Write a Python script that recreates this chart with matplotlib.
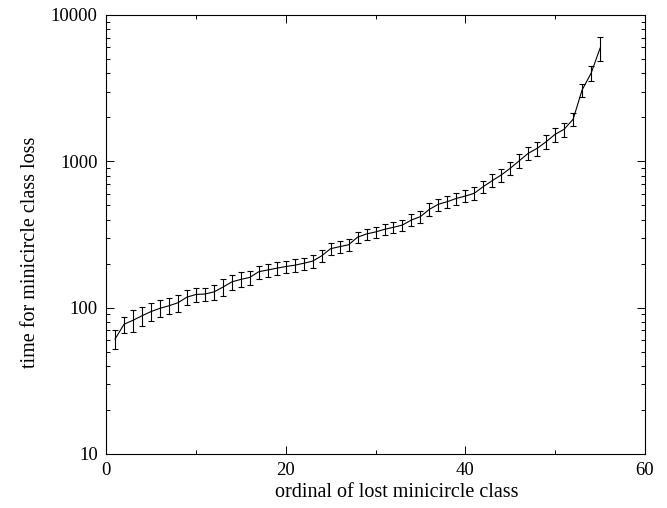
import numpy as np
import matplotlib
matplotlib.use("Agg")
import matplotlib.pyplot as plt
from matplotlib.ticker import FixedLocator, NullFormatter, LogLocator

# ordinal of lost minicircle class
ordinal = list(range(1, 56))

# time for minicircle class loss
loss_time = [61, 77, 82, 88, 94, 99, 103, 108, 118, 123,
             124, 128, 138, 150, 156, 161, 176, 181, 186, 191,
             195, 201, 208, 226, 253, 261, 269, 303, 319, 329,
             343, 354, 367, 397, 419, 470, 509, 530, 558, 579,
             605, 672, 738, 807, 896, 1009, 1134, 1227, 1362, 1530,
             1656, 1938, 3076, 3999, 5929]

# error bar half-widths
loss_err = [9, 10, 14, 13, 13, 13, 13, 15, 14, 14,
            13, 15, 18, 18, 18, 18, 18, 18, 18, 19,
            19, 19, 20, 22, 24, 24, 25, 26, 28, 28,
            30, 30, 33, 38, 40, 45, 48, 50, 52, 54,
            58, 65, 75, 85, 95, 110, 120, 135, 150, 170,
            180, 200, 320, 450, 1100]

plt.rcParams['font.family'] = ['Liberation Serif', 'DejaVu Serif']

fig = plt.figure(figsize=(6.67, 5.08), dpi=100)
ax = fig.add_axes([0.159, 0.1063, 0.808, 0.8642])

ax.errorbar(ordinal, loss_time, yerr=loss_err, color='black', lw=0.8,
            elinewidth=0.8, capsize=2.5, capthick=0.8)

ax.set_yscale('log')
ax.set_xlim(0, 60)
ax.set_ylim(10, 10000)
ax.set_xticks([0, 20, 40, 60])
ax.xaxis.set_minor_locator(FixedLocator([10, 30, 50]))
ax.set_yticks([10, 100, 1000, 10000])
ax.set_yticklabels(['10', '100', '1000', '10000'])
ax.yaxis.set_minor_locator(LogLocator(base=10, subs=np.arange(2, 10)))
ax.yaxis.set_minor_formatter(NullFormatter())

ax.tick_params(which='both', direction='in', top=True, right=True,
               labelsize=13.5, width=0.7)
ax.tick_params(which='major', length=6, pad=6)
ax.tick_params(which='minor', length=3)
for s in ax.spines.values():
    s.set_linewidth(0.8)

ax.set_xlabel('ordinal of lost minicircle class', fontsize=14.5)
ax.set_ylabel('time for minicircle class loss', fontsize=14.5)
ax.xaxis.set_label_coords(0.54, -0.066)
ax.yaxis.set_label_coords(-0.122, 0.46)

fig.savefig('out.png', dpi=100)
